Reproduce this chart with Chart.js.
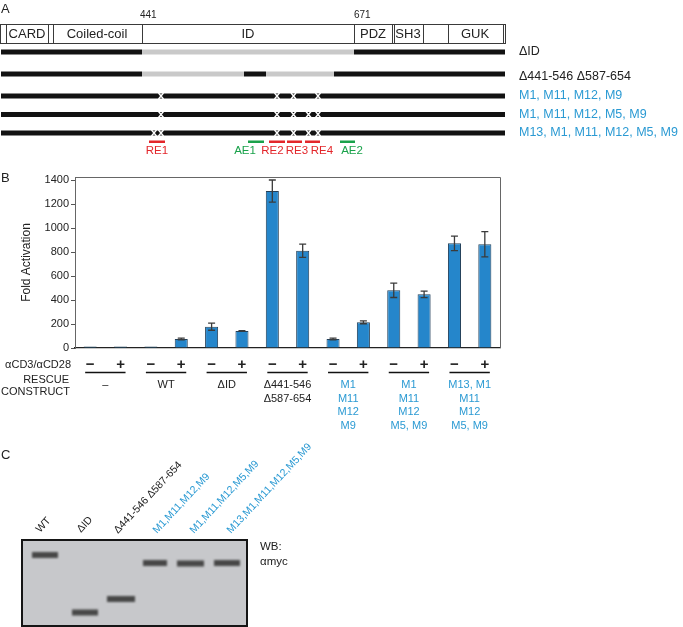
<!DOCTYPE html>
<html>
<head>
<meta charset="utf-8">
<script src="https://cdn.jsdelivr.net/npm/chart.js@4"></script>
<style>
  body { margin: 0; background: #fff; }
  #wrap { position: relative; width: 683px; height: 627px; }
  #wrap canvas { position: absolute; left: 0; top: 0; }
</style>
</head>
<body>
<div id="wrap">
  <canvas id="bg" width="683" height="627"></canvas>
  <canvas id="chart" width="683" height="627"></canvas>
</div>
<script>
// panel B data
const categories = ['– –', '– +', 'WT –', 'WT +', 'ΔID –', 'ΔID +', 'Δ441 –', 'Δ441 +',
                    'M9 –', 'M9 +', 'M5M9 –', 'M5M9 +', 'M13 –', 'M13 +'];
const stimulation = ['−', '+', '−', '+', '−', '+', '−', '+', '−', '+', '−', '+', '−', '+'];
const foldActivation = [12, 12, 12, 75, 178, 142, 1308, 811, 75, 214, 481, 447, 872, 864];
const errors = [0, 0, 0, 7, 30, 2, 92, 55, 8, 12, 60, 27, 60, 105];
const yTicks = [0, 200, 400, 600, 800, 1000, 1200, 1400];
const groupLabels = [
  ['–'], ['WT'], ['ΔID'], ['Δ441-546', 'Δ587-654'],
  ['M1', 'M11', 'M12', 'M9'], ['M1', 'M11', 'M12', 'M5, M9'], ['M13, M1', 'M11', 'M12', 'M5, M9']
];
// panel A / C text
const mutantNames = ['M1, M11, M12, M9', 'M1, M11, M12, M5, M9', 'M13, M1, M11, M12, M5, M9'];
const laneLabels = ['WT', 'ΔID', 'Δ441-546 Δ587-654', 'M1,M11,M12,M9', 'M1,M11,M12,M5,M9', 'M13,M1,M11,M12,M5,M9'];

const FONT = "'Liberation Sans', Arial, sans-serif";
const BLUE = '#2b9ad3';
const INK = '#222';
const groupColors = [INK, INK, INK, INK, BLUE, BLUE, BLUE];

// ---------- static panels (A schematic, C blot) ----------
const bg = document.getElementById('bg').getContext('2d');

function txt(s, x, y, size, color, align, weight) {
  bg.font = (weight || '') + ' ' + size + 'px ' + FONT;
  bg.fillStyle = color || INK;
  bg.textAlign = align || 'left';
  bg.textBaseline = 'middle';
  bg.fillText(s, x, y);
}

txt('A', 1, 9, 13);
txt('B', 1, 178, 13);
txt('C', 1, 455, 13);

// domain box
txt('441', 140, 15, 10);
txt('671', 354, 15, 10);
bg.strokeStyle = '#3a3a3a';
bg.lineWidth = 1;
bg.strokeRect(0.5, 24.5, 505, 19);
[6, 48, 53, 142, 354, 391.5, 394, 423, 448, 503].forEach(x => {
  bg.beginPath();
  bg.moveTo(Math.round(x) + 0.5, 24.5);
  bg.lineTo(Math.round(x) + 0.5, 43.5);
  bg.stroke();
});
txt('CARD', 27, 34.5, 13, INK, 'center');
txt('Coiled-coil', 97, 34.5, 13, INK, 'center');
txt('ID', 248, 34.5, 13, INK, 'center');
txt('PDZ', 373, 34.5, 13, INK, 'center');
txt('SH3', 408, 34.5, 13, INK, 'center');
txt('GUK', 475, 34.5, 13, INK, 'center');

function seg(x1, x2, y, color) {
  bg.fillStyle = color;
  bg.fillRect(x1, y - 2.5, x2 - x1, 5);
}
function cut(x, y) {
  bg.save();
  bg.strokeStyle = '#fff';
  bg.lineWidth = 1.4;
  bg.beginPath();
  bg.moveTo(x - 2.5, y - 3); bg.lineTo(x + 2.5, y + 3);
  bg.moveTo(x - 2.5, y + 3); bg.lineTo(x + 2.5, y - 3);
  bg.stroke();
  bg.restore();
}
const DARK = '#121212', LIGHT = '#c9c9c9';
seg(1, 142, 52, DARK); seg(142, 354, 52, LIGHT); seg(354, 505, 52, DARK);
seg(1, 142, 74, DARK); seg(142, 244, 74, LIGHT); seg(244, 266, 74, DARK);
seg(266, 334, 74, LIGHT); seg(334, 505, 74, DARK);
[96, 114.5, 133].forEach(y => seg(1, 505, y, DARK));
[161, 277, 293.5, 318].forEach(x => cut(x, 96));
[161, 277, 293.5, 308.5, 318].forEach(x => cut(x, 114.5));
[154, 161, 277, 293.5, 308.5, 318].forEach(x => cut(x, 133));

txt('ΔID', 519, 52, 12.5);
txt('Δ441-546 Δ587-654', 519, 77, 12.5);
mutantNames.forEach((s, i) => txt(s, 519, [96, 114.5, 133][i], 12.5, BLUE));

// regions below the schematic
const RED = '#e3262b', GREEN = '#1aa24b';
[[149, 165, RED], [248, 264, GREEN], [269, 285, RED], [287, 302, RED], [305, 320, RED], [340, 355, GREEN]]
  .forEach(([a, b, c]) => { bg.fillStyle = c; bg.fillRect(a, 140.5, b - a, 2.5); });
[['RE1', 157, RED], ['AE1', 245, GREEN], ['RE2', 272.5, RED], ['RE3', 297, RED], ['RE4', 322, RED], ['AE2', 352, GREEN]]
  .forEach(([s, x, c]) => txt(s, x, 151, 11.5, c, 'center'));

// western blot
bg.fillStyle = '#c7c8cb';
bg.fillRect(22, 539, 225, 88);
bg.strokeStyle = '#151515';
bg.lineWidth = 2;
bg.strokeRect(22, 540, 225, 86);
bg.save();
bg.filter = 'blur(1.2px)';
bg.fillStyle = '#474747';
[[32, 58, 555], [72, 98, 612.5], [107, 135, 599], [143, 167, 563], [177, 204, 563.5], [214, 240, 563]]
  .forEach(([a, b, y]) => bg.fillRect(a, y - 3, b - a, 6));
bg.restore();
txt('WB:', 260, 547, 11.5);
txt('αmyc', 260, 562, 11.5);

[[40, 533], [81, 533], [118, 534], [157, 534], [194, 534], [231, 534]].forEach(([x, y], i) => {
  bg.save();
  bg.translate(x, y);
  bg.rotate(-47 * Math.PI / 180);
  bg.font = '10.5px ' + FONT;
  bg.fillStyle = i < 3 ? INK : BLUE;
  bg.textAlign = 'left';
  bg.textBaseline = 'alphabetic';
  bg.fillText(laneLabels[i], 0, 0);
  bg.restore();
});

// ---------- panel B chart ----------
const extras = {
  id: 'extras',
  afterDatasetsDraw(chart) {
    const ctx = chart.ctx, y = chart.scales.y;
    const bars = chart.getDatasetMeta(0).data;
    ctx.save();
    ctx.strokeStyle = '#3b3b3b';
    ctx.lineWidth = 1.3;
    bars.forEach((b, i) => {
      if (!errors[i]) return;
      const top = y.getPixelForValue(foldActivation[i] + errors[i]);
      const bot = y.getPixelForValue(foldActivation[i] - errors[i]);
      ctx.beginPath();
      ctx.moveTo(b.x, top); ctx.lineTo(b.x, bot);
      ctx.moveTo(b.x - 3.5, top); ctx.lineTo(b.x + 3.5, top);
      ctx.moveTo(b.x - 3.5, bot); ctx.lineTo(b.x + 3.5, bot);
      ctx.stroke();
    });
    ctx.restore();
  },
  afterDraw(chart) {
    const ctx = chart.ctx, a = chart.chartArea;
    const bars = chart.getDatasetMeta(0).data;
    ctx.save();
    // frame
    ctx.strokeStyle = '#666';
    ctx.lineWidth = 1;
    ctx.beginPath();
    ctx.moveTo(a.left, a.top + 0.5); ctx.lineTo(a.right + 0.5, a.top + 0.5); ctx.lineTo(a.right + 0.5, a.bottom);
    ctx.stroke();
    // stimulation row
    ctx.textBaseline = 'middle';
    ctx.fillStyle = INK;
    ctx.font = '11px ' + FONT;
    ctx.textAlign = 'right';
    ctx.fillText('αCD3/αCD28', 71, 365);
    ctx.fillText('RESCUE', 69, 379.5);
    ctx.fillText('CONSTRUCT', 70, 392);
    ctx.textAlign = 'center';
    ctx.font = 'bold 15px ' + FONT;
    bars.forEach((b, i) => ctx.fillText(stimulation[i], b.x, 365));
    ctx.strokeStyle = '#111';
    ctx.lineWidth = 1.5;
    groupLabels.forEach((lines, g) => {
      const x1 = bars[2 * g].x, x2 = bars[2 * g + 1].x;
      ctx.beginPath();
      ctx.moveTo(x1 - 5, 372.5); ctx.lineTo(x2 + 5, 372.5);
      ctx.stroke();
      ctx.font = '11px ' + FONT;
      ctx.fillStyle = groupColors[g];
      lines.forEach((s, k) => ctx.fillText(s, (x1 + x2) / 2, 385 + k * 13.6));
    });
    ctx.restore();
  }
};

new Chart(document.getElementById('chart'), {
  type: 'bar',
  data: {
    labels: categories,
    datasets: [{
      data: foldActivation,
      backgroundColor: '#2586cb',
      borderColor: '#23405a',
      borderWidth: 1,
      barPercentage: 0.43,
      categoryPercentage: 1
    }]
  },
  options: {
    responsive: false,
    animation: false,
    layout: { padding: { top: 177, right: 183, left: 0, bottom: 0 } },
    plugins: { legend: { display: false }, tooltip: { enabled: false } },
    scales: {
      x: {
        grid: { display: false },
        ticks: { display: false },
        border: { color: '#222', width: 1.3 },
        afterFit: s => { s.height = 279; }
      },
      y: {
        min: 0,
        max: 1425,
        afterBuildTicks: s => { s.ticks = yTicks.map(v => ({ value: v })); },
        afterFit: s => { s.width = 75; },
        grid: { drawOnChartArea: false, drawTicks: true, tickLength: 4, color: '#555' },
        border: { color: '#666', width: 1 },
        ticks: { font: { family: FONT, size: 11 }, color: INK, padding: 2, callback: v => String(v) },
        title: {
          display: true, text: 'Fold Activation', color: INK,
          font: { family: FONT, size: 12 }, padding: { top: 19, bottom: 0 }
        }
      }
    }
  },
  plugins: [extras]
});
</script>
</body>
</html>
